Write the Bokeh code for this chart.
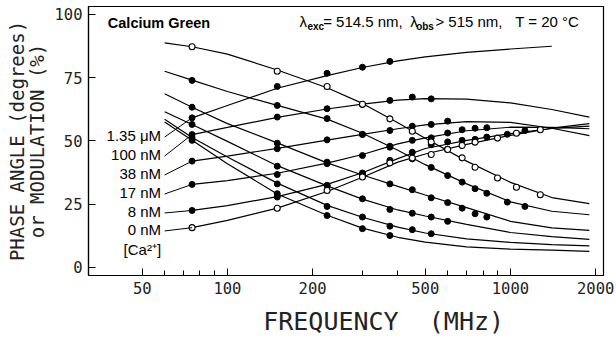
import math
from bokeh.plotting import figure
from bokeh.models import FixedTicker, NumeralTickFormatter, Range1d, ColumnDataSource
from bokeh.core.properties import value
from bokeh.embed import file_html
from bokeh.resources import INLINE

nan = float("nan")

# ---------------- data ----------------
CONC = ["1.35 \u03bcM", "100 nM", "38 nM", "17 nM", "8 nM", "0 nM"]
LABEL_Y = [52.1, 44.6, 37.1, 29.6, 22.1, 15.0]
CA_LABEL = "[Ca\u00b2\u207a]"
CA_LABEL_Y = 7.1

# measured points (frequency in MHz, phase in degrees, modulation in %)
F_0 = [75, 150, 225, 300, 375, 450, 525, 600, 675, 750, 900, 1050, 1275]
PHASE_0 = [15.7, 23.4, 30.4, 35.7, 41.3, 43.2, 44.6, 46.7, 48.2, 49.5, 51.1, 53.0, 54.4]
MOD_0 = [87.2, 77.5, 71.5, 64.5, 58.7, 53.8, 49.6, 46.6, 43.3, 39.6, 35.3, 31.7, 28.7]

F_8 = [75, 150, 225, 300, 375, 450, 525, 600, 675, 750, 825, 975, 1125]
PHASE_8 = [22.5, 27.8, 32.4, 37.3, 42.3, 45.5, 48.5, 49.6, 50.2, 50.6, 51.5, 52.6, 54.1]
MOD_8 = [73.9, 64.0, 58.8, 52.6, 47.5, 42.9, 39.5, 36.3, 33.7, 31.1, 29.3, 25.8, 24.1]

F_17 = [75, 150, 225, 300, 375, 450, 525, 600, 675, 750, 825]
PHASE_17 = [32.8, 36.7, 41.6, 44.2, 47.9, 50.2, 51.2, 53.1, 54.4, 55.0, 55.2]
MOD_17 = [63.3, 49.1, 41.0, 36.7, 33.0, 30.7, 27.5, 25.6, 23.4, 21.2, 19.9]

F_38 = [75, 150, 225, 300, 375, 450, 525, 600]
PHASE_38 = [42.0, 46.9, 50.4, 52.5, 54.1, 55.8, 56.5, 57.8]
MOD_38 = [56.5, 40.0, 32.4, 27.1, 22.9, 21.4, 19.9, 18.2]

F_100 = [75, 150, 225, 300, 375, 450, 525]
PHASE_100 = [52.5, 59.4, 62.7, 64.4, 66.0, 67.3, 66.6]
MOD_100 = [51.3, 33.0, 24.1, 19.9, 16.3, 14.9, 13.3]

F_1350 = [75, 150, 225, 300, 375]
PHASE_1350 = [59.1, 71.5, 76.7, 79.1, 81.4]
MOD_1350 = [50.2, 29.1, 20.5, 15.3, 12.6]

# fitted curves, read at these frequencies
FIT_F = [60, 75, 100, 150, 225, 300, 400, 500, 700, 1000, 1400, 1900]
FIT_PHASE_0 = [nan, 15.7, 18.6, 23.4, 30.0, 35.6, 41.6, 44.8, 48.6, 52.2, 55.0, 56.8]
FIT_MOD_0 = [88.7, 87.2, 84.3, 78.0, 71.0, 64.8, 57.2, 51.0, 42.0, 33.6, 27.6, 25.2]
FIT_PHASE_8 = [nan, 22.5, 24.4, 28.0, 32.8, 37.4, 43.0, 47.0, 50.2, 52.9, 54.9, 55.8]
FIT_MOD_8 = [77.5, 74.0, 69.5, 64.0, 58.6, 53.0, 46.3, 40.6, 33.0, 25.9, 22.2, 20.8]
FIT_PHASE_17 = [nan, 32.8, 34.3, 37.2, 41.2, 44.6, 48.8, 51.2, 54.0, 55.4, 55.3, 54.8]
FIT_MOD_17 = [68.6, 63.3, 56.8, 49.2, 41.3, 36.5, 32.0, 28.6, 23.6, 18.2, 15.6, 14.6]
FIT_PHASE_38 = [nan, 42.0, 44.0, 47.0, 50.3, 52.6, 54.8, 56.3, 57.6, 57.3, 55.0, 52.1]
FIT_MOD_38 = [61.5, 56.5, 49.8, 40.2, 32.2, 27.0, 22.7, 20.3, 17.0, 13.8, 12.2, 11.1]
FIT_PHASE_100 = [nan, 52.5, 55.3, 59.3, 62.6, 64.5, 66.1, 66.7, 66.5, 65.0, 62.4, 59.4]
FIT_MOD_100 = [58.5, 51.3, 43.6, 33.3, 24.5, 19.8, 15.9, 13.6, 11.3, 9.9, 9.0, 8.5]
FIT_PHASE_1350 = [nan, 59.1, 64.0, 70.8, 75.8, 79.0, 81.6, 83.2, 85.0, 86.3, 87.4, nan]
FIT_MOD_1350 = [57.5, 50.2, 41.0, 29.0, 20.6, 15.5, 11.9, 10.0, 8.1, 7.2, 6.8, 6.3]

X_TICKS = [50, 100, 200, 500, 1000, 2000]
X_MINOR = [60, 70, 80, 90, 300, 400, 600, 700, 800, 900]
Y_TICKS = [0, 25, 50, 75, 100]

# ---------------- figure ----------------
p = figure(width=616, height=338, output_backend="svg", toolbar_location=None,
           x_axis_type="log",
           x_range=Range1d(32.3, 2132), y_range=Range1d(-3.2, 103.1),
           min_border_left=88, min_border_right=13, min_border_top=6, min_border_bottom=63)
p.background_fill_color = "white"
p.border_fill_color = "white"
p.outline_line_color = "black"
p.outline_line_width = 1.2
p.xgrid.grid_line_color = None
p.ygrid.grid_line_color = None

mono = "DejaVu Sans Mono"
for ax in (p.xaxis[0], p.yaxis[0]):
    ax.axis_line_color = "black"
    ax.axis_line_width = 1.2
    ax.major_tick_in = 7
    ax.major_tick_out = 0
    ax.major_tick_line_color = "black"
    ax.major_label_text_font = mono
    ax.major_label_text_font_size = "15.5px"
    ax.major_label_text_color = "#222222"
    ax.major_label_standoff = 6
    ax.axis_label_text_font = mono
    ax.axis_label_text_font_style = "normal"
    ax.axis_label_text_color = "#222222"

p.xaxis.ticker = FixedTicker(ticks=X_TICKS, minor_ticks=X_MINOR)
p.xaxis.formatter = NumeralTickFormatter(format="0")
p.xaxis.minor_tick_in = 5
p.xaxis.minor_tick_out = 0
p.xaxis.minor_tick_line_color = "black"
p.xaxis.axis_label = "\u00a0" * 5 + "FREQUENCY\u00a0\u00a0(MHz)"
p.xaxis.axis_label_text_font_size = "25px"
p.xaxis.axis_label_standoff = 10

p.yaxis.ticker = FixedTicker(ticks=Y_TICKS)
p.yaxis.minor_tick_line_color = None
p.yaxis.axis_label = "PHASE ANGLE (degrees)\nor MODULATION (%)"
p.yaxis.axis_label_text_font_size = "19px"
p.yaxis.axis_label_text_line_height = 0.9
p.yaxis.axis_label_standoff = 4

# fitted curves
for fp, fm in [(FIT_PHASE_0, FIT_MOD_0), (FIT_PHASE_8, FIT_MOD_8), (FIT_PHASE_17, FIT_MOD_17),
               (FIT_PHASE_38, FIT_MOD_38), (FIT_PHASE_100, FIT_MOD_100), (FIT_PHASE_1350, FIT_MOD_1350)]:
    p.line(FIT_F, fp, line_color="black", line_width=1.2)
    p.line(FIT_F, fm, line_color="black", line_width=1.2)

# data points
filled = [(F_8, PHASE_8, MOD_8), (F_17, PHASE_17, MOD_17), (F_38, PHASE_38, MOD_38),
          (F_100, PHASE_100, MOD_100), (F_1350, PHASE_1350, MOD_1350)]
for f, ph, md in filled:
    p.scatter(f, ph, size=6, marker="circle", fill_color="black", line_color="black")
    p.scatter(f, md, size=6, marker="circle", fill_color="black", line_color="black")
p.scatter(F_0, PHASE_0, size=6, marker="circle", fill_color="white", line_color="black", line_width=1.1)
p.scatter(F_0, MOD_0, size=6, marker="circle", fill_color="white", line_color="black", line_width=1.1)

# concentration labels with leader lines to first phase point
first_phase = [PHASE_1350[0], PHASE_100[0], PHASE_38[0], PHASE_17[0], PHASE_8[0], PHASE_0[0]]
first_f = [F_1350[0], F_100[0], F_38[0], F_17[0], F_8[0], F_0[0]]
p.segment(x0=[60] * len(CONC), y0=[y - 0.6 for y in LABEL_Y], x1=first_f, y1=first_phase,
          line_color="black", line_width=1.0)
lab = ColumnDataSource(dict(x=[58.3] * (len(CONC) + 1), y=LABEL_Y + [CA_LABEL_Y], t=CONC + [CA_LABEL]))
p.text(x="x", y="y", text="t", source=lab, text_align="right", text_baseline="middle",
       text_font=value("Liberation Sans"), text_font_size="15px", text_color="black")

# header
p.text(x=[37.8], y=[96.5], text=["Calcium Green"], text_font=value("Liberation Sans"),
       text_font_style="bold", text_font_size="14.5px", text_baseline="alphabetic", text_color="black")
hdr = ColumnDataSource(dict(x=[179.7, 217.9, 443.0, 543.0, 1040.0],
                            y=[97.0] * 5,
                            t=["\u03bb", "= 514.5 nm,", "\u03bb", "> 515 nm,", "T = 20 \u00b0C"]))
p.text(x="x", y="y", text="t", source=hdr, text_font=value("Liberation Sans"), text_font_size="15px",
       text_baseline="alphabetic", text_color="black")
sub = ColumnDataSource(dict(x=[191.8, 464.3], y=[95.0, 95.0], t=["exc", "obs"]))
p.text(x="x", y="y", text="t", source=sub, text_font=value("Liberation Sans"), text_font_style="bold",
       text_font_size="10px", text_baseline="alphabetic", text_color="black")

open("out.html", "w").write(file_html(p, INLINE))
